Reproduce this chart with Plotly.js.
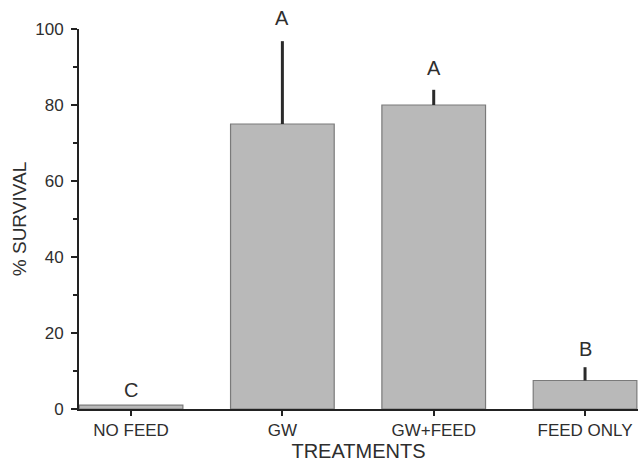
<!DOCTYPE html>
<html>
<head>
<meta charset="utf-8">
<script src="https://cdn.plot.ly/plotly-3.0.1.min.js"></script>
<style>
html,body{margin:0;padding:0;background:#fff;}
#chart{width:640px;height:470px;}
</style>
</head>
<body>
<div id="chart"></div>
<script>
// Data
const treatments = ["NO FEED", "GW", "GW+FEED", "FEED ONLY"];
const survival = [1, 75, 80, 7.5];
const errorPlus = [0, 21.8, 4, 3.5];
const sigLetters = ["C", "A", "A", "B"];
const letterY = [5, 103, 89.7, 15.8];
const yTicks = [0, 20, 40, 60, 80, 100];
const yRange = [0, 100];

const textFont = {family: "Liberation Sans, Arial, sans-serif", color: "#2e2e2e"};

const trace = {
  type: "bar",
  x: treatments.map((_, i) => i),
  y: survival,
  width: 0.685,
  marker: {color: "#b9b9b9", line: {color: "#7a7a7a", width: 1.2}},
  error_y: {type: "data", symmetric: false, array: errorPlus, arrayminus: survival.map(() => 0),
            color: "#2a2a2a", thickness: 3, width: 0},
  hoverinfo: "none",
  cliponaxis: false
};

// letters are placed on the y scale (converted to the plot-area fraction so the one above 100 stays visible)
const annotations = sigLetters.map((t, i) => ({
  x: i, y: (letterY[i] - yRange[0]) / (yRange[1] - yRange[0]), xref: "x", yref: "paper",
  text: t, showarrow: false,
  font: Object.assign({}, textFont, {size: 20}), xanchor: "center", yanchor: "middle"
}));

const layout = {
  width: 640, height: 470,
  margin: {l: 79, r: 2, t: 29, b: 61},
  paper_bgcolor: "#fff", plot_bgcolor: "#fff",
  showlegend: false,
  bargap: 0,
  xaxis: {
    range: [-0.344, 3.35],
    tickmode: "array", tickvals: treatments.map((_, i) => i), ticktext: treatments,
    ticks: "outside", ticklen: 5, tickwidth: 2, tickcolor: "#222",
    showline: true, linecolor: "#222", linewidth: 2,
    showgrid: false, zeroline: false,
    tickfont: Object.assign({}, textFont, {size: 17}),
    title: {text: "TREATMENTS", font: Object.assign({}, textFont, {size: 20}), standoff: 4},
    fixedrange: true
  },
  yaxis: {
    range: yRange,
    tickmode: "array", tickvals: yTicks,
    ticks: "outside", ticklen: 6, tickwidth: 2, tickcolor: "#222",
    ticklabelstandoff: 4,
    minor: {dtick: 10, ticks: "outside", ticklen: 4, tickwidth: 2, tickcolor: "#222", showgrid: false},
    showline: true, linecolor: "#222", linewidth: 2,
    showgrid: false, zeroline: false,
    tickfont: Object.assign({}, textFont, {size: 17}),
    title: {text: "% SURVIVAL", font: Object.assign({}, textFont, {size: 19}), standoff: 4},
    fixedrange: true
  },
  annotations: annotations
};

Plotly.newPlot("chart", [trace], layout, {displayModeBar: false, staticPlot: true});
</script>
</body>
</html>
